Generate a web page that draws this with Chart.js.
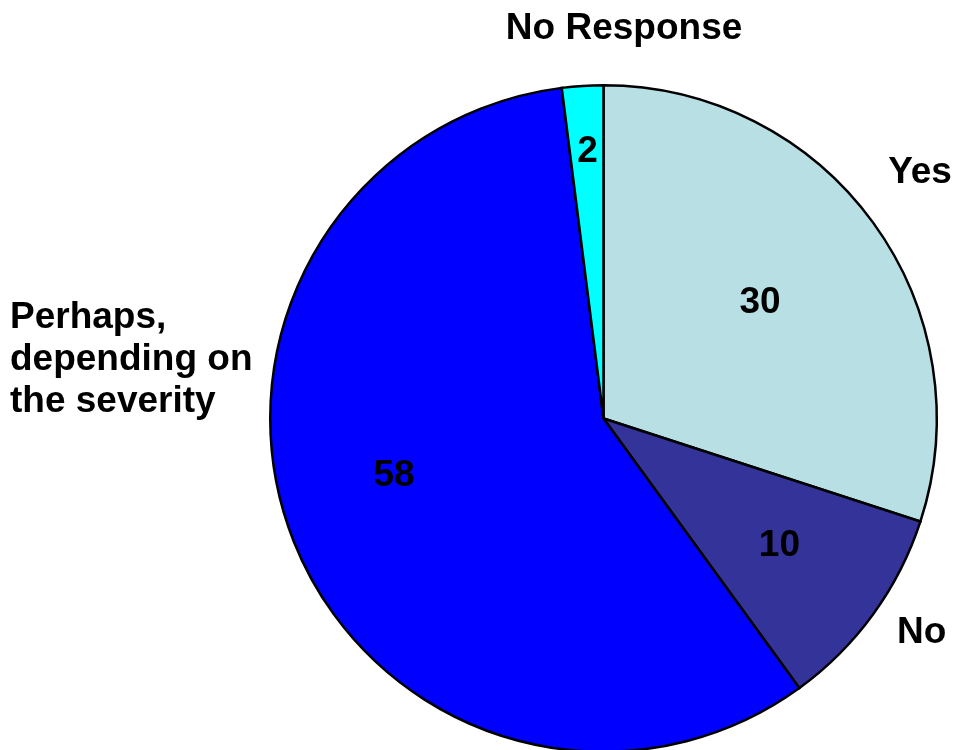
<!DOCTYPE html>
<html>
<head>
<meta charset="utf-8">
<script src="https://cdn.jsdelivr.net/npm/chart.js@4.4.1/dist/chart.umd.min.js"></script>
<style>
  html, body { margin: 0; padding: 0; background: #fff; overflow: hidden; }
  #wrap { position: relative; width: 956px; height: 836px; }
</style>
</head>
<body>
<div id="wrap"><canvas id="pie"></canvas></div>
<script>
// Survey answers, clockwise from 12 o'clock
const categories = [
  ['Yes'],
  ['No'],
  ['Perhaps,', 'depending on', 'the severity'],
  ['No Response']
];
const responses = [30, 10, 58, 2];

const sliceColors = ['#B8E0E4', '#333399', '#0000FF', '#00FFFF'];
const FONT = 'bold 37px "Liberation Sans", Arial, sans-serif';
const CAP_HALF = 13;      // half the cap height, to centre digits on a point
const LINE_HEIGHT = 42;

// Where each text sits, in the pie's own polar terms:
// angle shift from the slice middle (degrees) and distance as a share of the radius.
const valuePlacement = [
  { shift: -1.2, dist: 0.59 },
  { shift: -0.8, dist: 0.646 },
  { shift: 6.9,  dist: 0.65 },
  { shift: 0.2,  dist: 0.81 }
];
const namePlacement = [
  { angle: -38.1, dist: 1.207, align: 'center' },
  { angle: 33.6,  dist: 1.146, align: 'center' },
  { angle: 184.7, dist: 1.787, align: 'left' },
  { angle: -87.0, dist: 1.179, align: 'center' }
];

const rad = d => d * Math.PI / 180;

const pieText = {
  id: 'pieText',
  afterDatasetsDraw(chart) {
    const ctx = chart.ctx;
    const arcs = chart.getDatasetMeta(0).data;
    ctx.save();
    ctx.font = FONT;
    ctx.fillStyle = '#000';
    ctx.textBaseline = 'alphabetic';
    arcs.forEach((arc, i) => {
      const { x, y, startAngle, endAngle, outerRadius } =
        arc.getProps(['x', 'y', 'startAngle', 'endAngle', 'outerRadius'], true);

      // value inside the slice
      const v = valuePlacement[i];
      const a = (startAngle + endAngle) / 2 + rad(v.shift);
      ctx.textAlign = 'center';
      ctx.fillText(String(chart.data.datasets[0].data[i]),
        x + Math.cos(a) * outerRadius * v.dist,
        y + Math.sin(a) * outerRadius * v.dist + CAP_HALF);

      // category name outside the pie
      const n = namePlacement[i];
      const lines = chart.data.labels[i];
      const px = x + Math.cos(rad(n.angle)) * outerRadius * n.dist;
      const py = y + Math.sin(rad(n.angle)) * outerRadius * n.dist;
      ctx.textAlign = n.align;
      const first = py - (lines.length - 1) / 2 * LINE_HEIGHT;
      lines.forEach((line, k) => {
        ctx.fillText(line, px, first + k * LINE_HEIGHT + (n.align === 'left' ? 0 : CAP_HALF));
      });
    });
    ctx.restore();
  }
};

new Chart(document.getElementById('pie'), {
  type: 'pie',
  data: {
    labels: categories,
    datasets: [{
      data: responses,
      backgroundColor: sliceColors,
      borderColor: '#000',
      borderWidth: 2.5,
      borderJoinStyle: 'miter',
      hoverOffset: 0
    }]
  },
  options: {
    responsive: true,
    maintainAspectRatio: false,
    animation: false,
    events: [],
    layout: { padding: { left: 269, right: 18, top: 84, bottom: 83 } },
    plugins: {
      legend: { display: false },
      tooltip: { enabled: false },
      title: { display: false }
    }
  },
  plugins: [pieText]
});
</script>
</body>
</html>
